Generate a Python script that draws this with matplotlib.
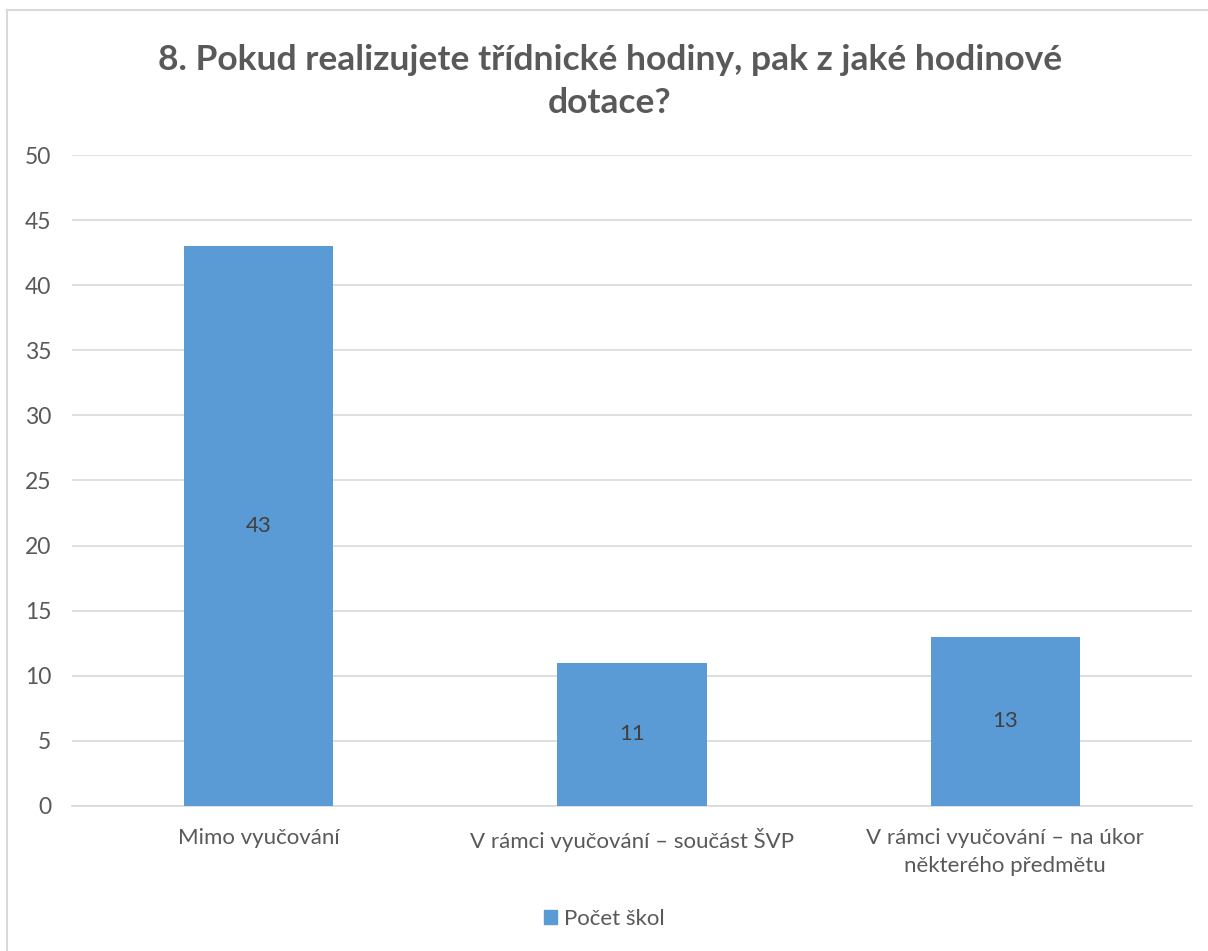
import matplotlib.pyplot as plt
from matplotlib.lines import Line2D
from matplotlib.patches import Patch

categories = ["Mimo vyučování",
              "V rámci vyučování – součást ŠVP",
              "V rámci vyučování – na úkor\nněkterého předmětu"]
values = [43, 11, 13]
series_name = "Počet škol"
title = "8. Pokud realizujete třídnické hodiny, pak z jaké hodinové\ndotace?"

plt.rcParams['font.family'] = ['Lato', 'DejaVu Sans']
text_col = '#595959'
bar_col = '#5B9BD5'
grid_col = '#D9D9D9'

fig = plt.figure(figsize=(12.08, 9.51), dpi=100)
ax = fig.add_axes([0.0596, 0.1525, 0.927, 0.6845])

x = range(len(categories))
bars = ax.bar(x, values, width=0.4, color=bar_col, zorder=3)
for b, v in zip(bars, values):
    ax.text(b.get_x() + b.get_width() / 2, v / 2, str(v), ha='center', va='center',
            fontsize=16, color='#404040', zorder=4)

ax.set_xlim(-0.5, len(categories) - 0.5)
ax.set_ylim(0, 50)
ax.set_yticks(range(0, 51, 5))
ax.set_xticks(list(x))
ax.set_xticklabels(categories, fontsize=16, color=text_col, linespacing=1.5)
ax.tick_params(axis='y', labelsize=16.5, labelcolor=text_col, length=0, pad=15)
ax.tick_params(axis='x', length=0, pad=16)
ax.grid(axis='y', color=grid_col, linewidth=1.2, zorder=0)
for s in ['top', 'right', 'left']:
    ax.spines[s].set_visible(False)
ax.spines['bottom'].set_color(grid_col)
ax.spines['bottom'].set_linewidth(1.2)

fig.text(0.505, 0.914, title, ha='center', va='center', fontsize=25.5,
         fontweight='bold', color=text_col, linespacing=1.42)

fig.legend(handles=[Patch(color=bar_col, label=series_name)], loc='center',
           bbox_to_anchor=(0.5, 0.034), frameon=False, fontsize=16,
           handlelength=0.6, handleheight=0.6, handletextpad=0.3,
           labelcolor=text_col)

# chart border (only top and left edges are visible in the crop)
fig.add_artist(Line2D([7 / 1208, 1], [1 - 10 / 951] * 2, color=grid_col, lw=1.5,
                      transform=fig.transFigure))
fig.add_artist(Line2D([7 / 1208] * 2, [0, 1 - 10 / 951], color=grid_col, lw=1.5,
                      transform=fig.transFigure))

fig.savefig("out.png", dpi=100)
